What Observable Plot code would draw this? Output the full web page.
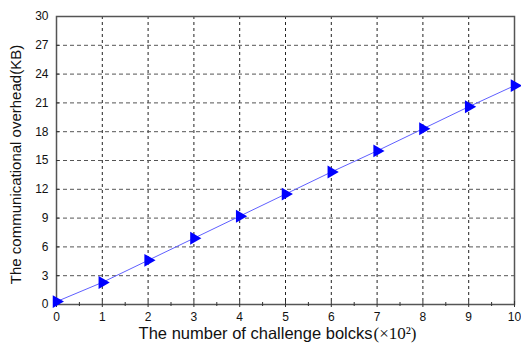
<!DOCTYPE html>
<html><head><meta charset="utf-8">
<script src="https://cdn.jsdelivr.net/npm/d3@7"></script>
<script src="https://cdn.jsdelivr.net/npm/@observablehq/plot@0.6"></script>
<style>body{margin:0;background:#fff;font-family:"Liberation Sans",Arial,sans-serif}</style>
</head><body><div id="chart"></div>
<script>
const blocks = [0,1,2,3,4,5,6,7,8,9,10];
const overhead = [0.3,2.3,4.6,6.9,9.2,11.5,13.8,16.0,18.3,20.6,22.8];
const xTicks = [0,1,2,3,4,5,6,7,8,9,10];
const yTicks = [0,3,6,9,12,15,18,21,24,27,30];
const data = blocks.map((b,i)=>({x:b,y:overhead[i]}));
const minor = d3.range(0.5,10,1);

const plot = Plot.plot({
  width:521, height:346,
  marginLeft:56, marginRight:7, marginTop:16, marginBottom:42,
  style:{fontFamily:"Liberation Sans, Arial, sans-serif", fontSize:"12px", color:"#111", background:"#fff"},
  x:{domain:[0,10]},
  y:{domain:[0,30]},
  marks:[
    Plot.gridX(xTicks.slice(1,-1),{stroke:"#222",strokeOpacity:1,strokeDasharray:"3,3"}),
    Plot.gridY(yTicks.slice(1,-1),{stroke:"#555",strokeOpacity:1,strokeDasharray:"4,3"}),
    Plot.frame({stroke:"#555",strokeWidth:1.5}),
    Plot.axisX(xTicks,{tickSize:0,tickPadding:8,fontSize:12,label:null}),
    Plot.axisX(xTicks,{tickSize:6,dy:-3,text:null,label:null,stroke:"#333"}),
    Plot.axisX(minor,{tickSize:4,dy:-2,text:null,label:null,stroke:"#333"}),
    Plot.axisY(yTicks,{tickSize:0,tickPadding:8,fontSize:12,label:null}),
    Plot.axisY(yTicks.slice(1,-1),{tickSize:3,dx:3,text:null,label:null,stroke:"#333"}),
    Plot.line(data,{x:"x",y:"y",stroke:"#6060ff",strokeWidth:1}),
    Plot.dot(data,{x:"x",y:"y",symbol:"triangle",rotate:90,r:4.8,fill:"#0000ff",stroke:"none"}),
    Plot.text(["The number of challenge bolcks"],{frameAnchor:"bottom",lineAnchor:"middle",dy:29,dx:87,textAnchor:"end",fontSize:16.5,fill:"#111"}),
    Plot.text(["(×10²)"],{frameAnchor:"bottom",lineAnchor:"middle",dy:29,dx:88,fontSize:17,fill:"#111",fontFamily:"Liberation Serif, serif",textAnchor:"start"}),
    Plot.text(["The communicational overhead(KB)"],{frameAnchor:"left",dx:-40,dy:4,rotate:-90,textAnchor:"middle",lineAnchor:"middle",fontSize:15,fill:"#111"})
  ]
});
document.getElementById("chart").append(plot);
</script></body></html>
